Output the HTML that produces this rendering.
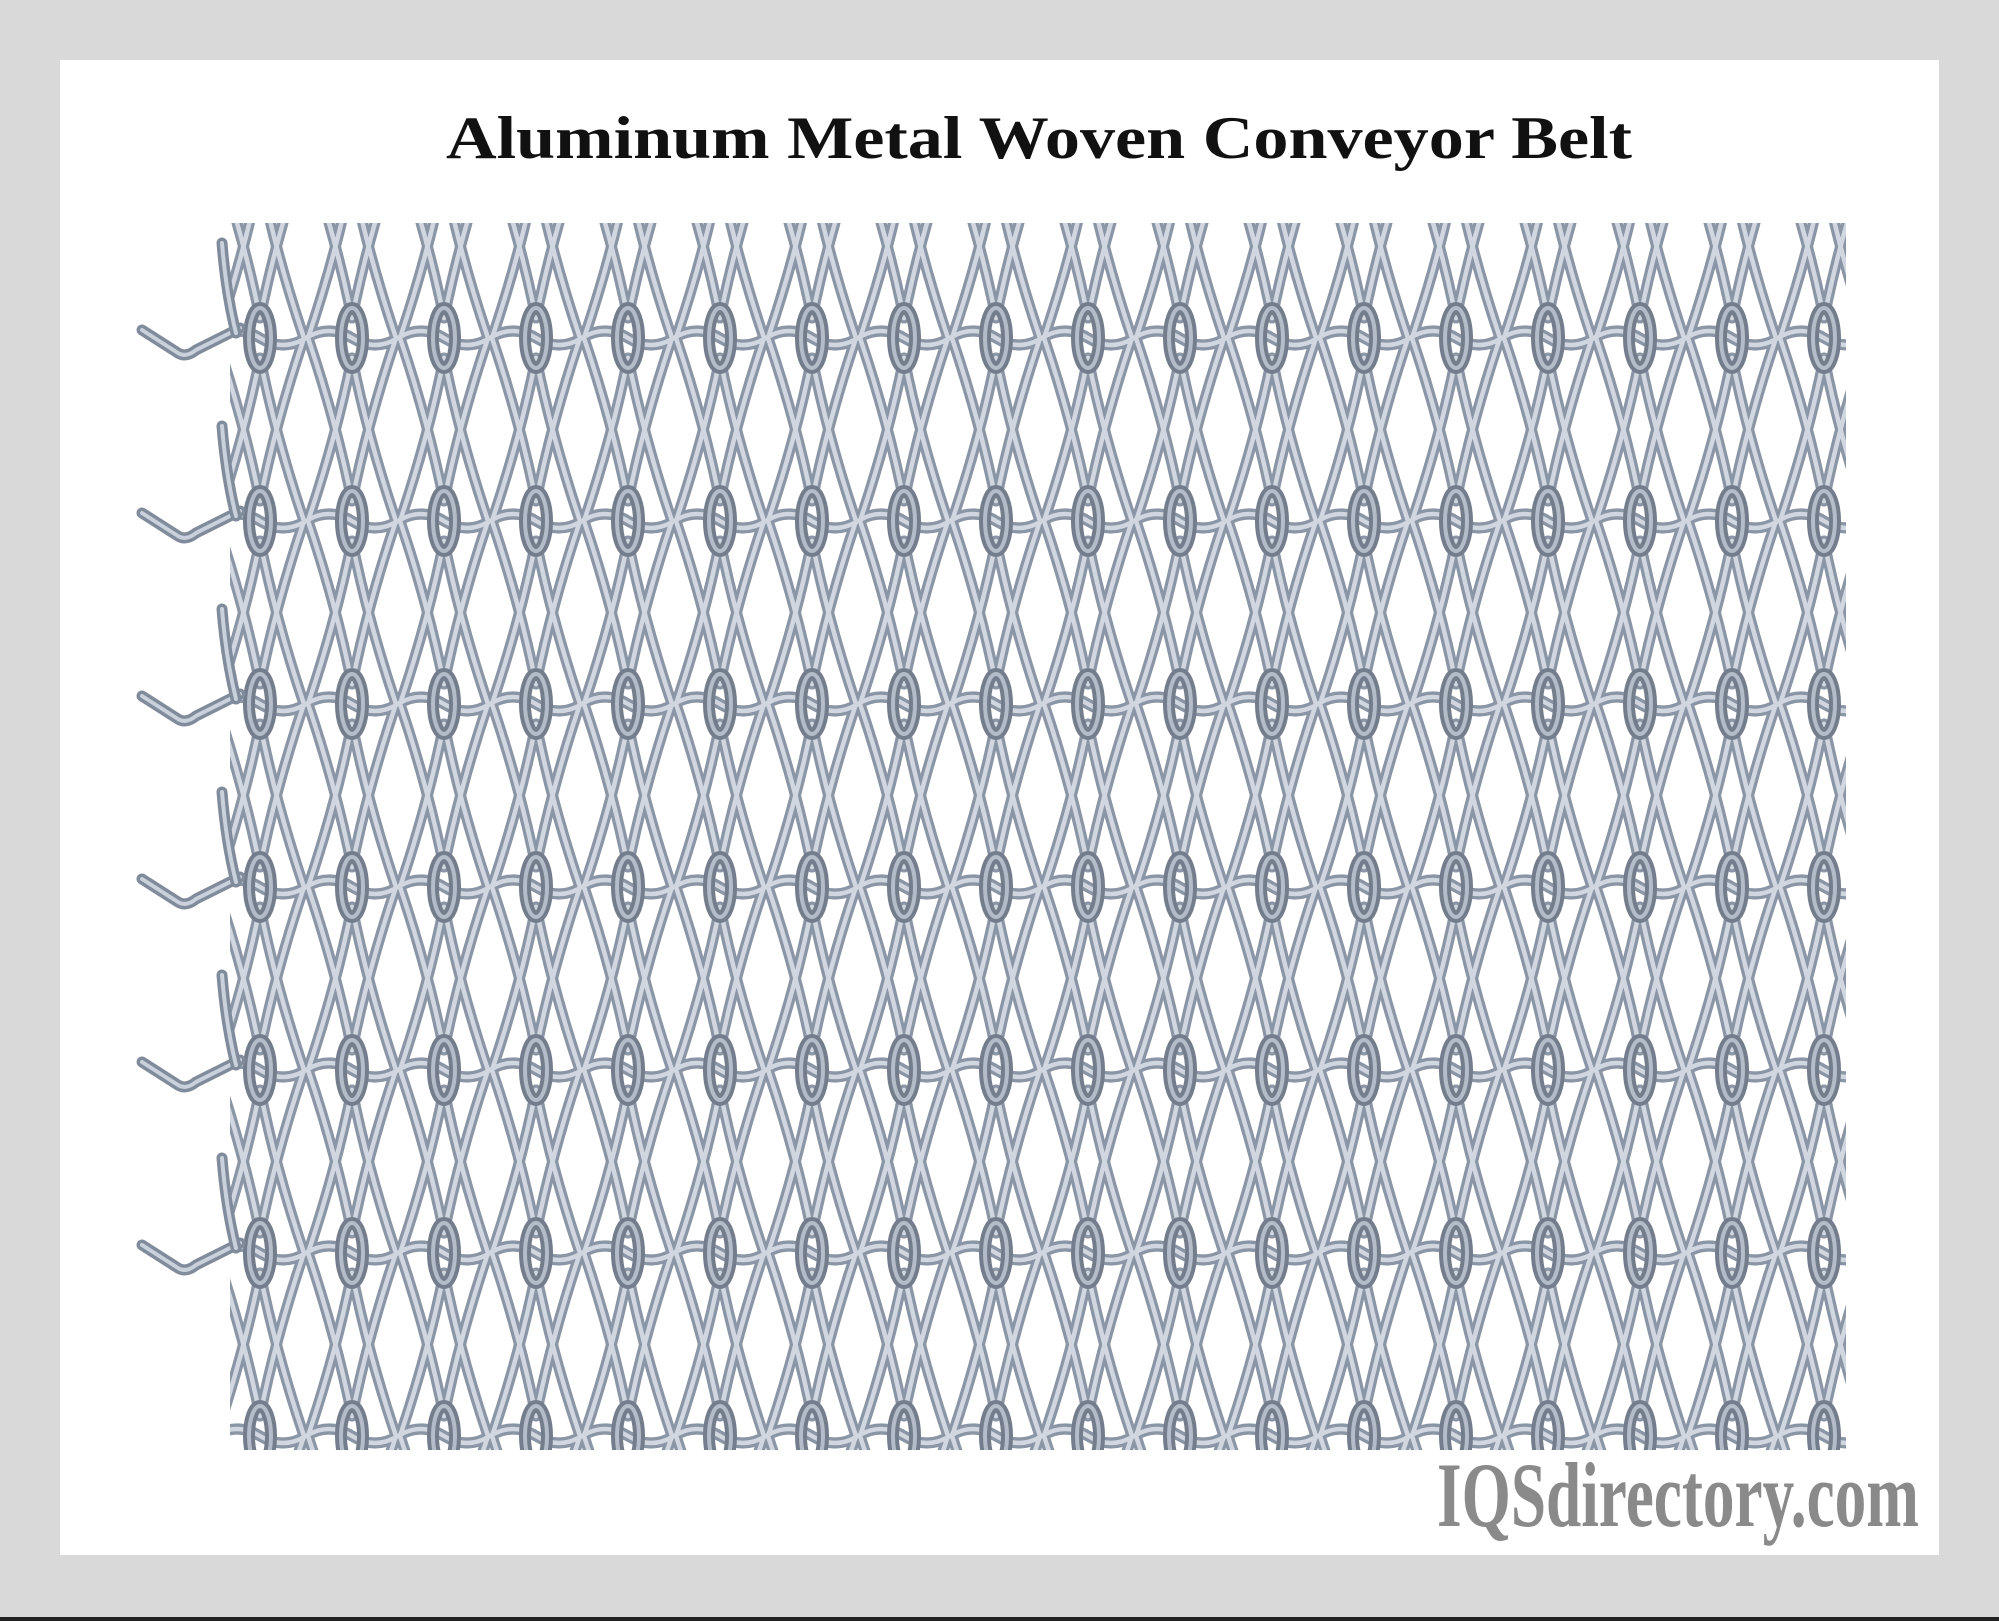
<!DOCTYPE html>
<html><head><meta charset="utf-8"><style>
html,body{margin:0;padding:0;background:#d9d9d9;}
svg{display:block;}
</style></head><body>
<svg width="1999" height="1621" viewBox="0 0 1999 1621" xmlns="http://www.w3.org/2000/svg">
<defs>
<pattern id="mesh" patternUnits="userSpaceOnUse" x="214" y="155" width="92" height="183">
 <g fill="none" stroke-linecap="round">
  <g stroke="#8a95a5" stroke-width="11">
   <path d="M46,20 Q30,100 2,183"/>
   <path d="M46,20 Q62,100 90,183"/>
   <path d="M46,163 Q30,83 2,0"/>
   <path d="M46,163 Q62,83 90,0"/>
   <path d="M-46,163 Q-30,83 -2,0"/>
   <path d="M138,163 Q122,83 94,0"/>
   <path d="M-46,20 Q-30,100 -2,183"/>
   <path d="M138,20 Q122,100 94,183"/>
   <path d="M0,183 q23,-14 46,0 t46,0"/>
   <path d="M0,0 q23,-14 46,0 t46,0"/>
  </g>
  <g stroke="#d0d7e0" stroke-width="4.5">
   <path d="M46,20 Q30,100 2,183"/>
   <path d="M46,20 Q62,100 90,183"/>
   <path d="M46,163 Q30,83 2,0"/>
   <path d="M46,163 Q62,83 90,0"/>
   <path d="M-46,163 Q-30,83 -2,0"/>
   <path d="M138,163 Q122,83 94,0"/>
   <path d="M-46,20 Q-30,100 -2,183"/>
   <path d="M138,20 Q122,100 94,183"/>
   <path d="M0,183 q23,-14 46,0 t46,0"/>
   <path d="M0,0 q23,-14 46,0 t46,0"/>
  </g>
  <g stroke="#737d8c" stroke-width="12">
   <ellipse cx="46" cy="183" rx="11" ry="30"/>
   <ellipse cx="46" cy="0" rx="11" ry="30"/>
  </g>
  <g stroke="#b3bcc8" stroke-width="4">
   <ellipse cx="46" cy="183" rx="11" ry="30"/>
   <ellipse cx="46" cy="0" rx="11" ry="30"/>
  </g>
 </g>
</pattern>
<g id="hook" fill="none" stroke-linecap="round">
 <path d="M142,-8 L178,15 Q186,20 196,12 L240,-10" stroke="#808b9b" stroke-width="11"/>
 <path d="M142,-8 L178,15 Q186,20 196,12 L240,-10" stroke="#c9d1dc" stroke-width="4"/>
 <path d="M222,-95 Q226,-45 236,-5" stroke="#808b9b" stroke-width="11"/>
 <path d="M222,-95 Q226,-45 236,-5" stroke="#c9d1dc" stroke-width="4"/>
</g>
</defs>
<rect x="0" y="0" width="1999" height="1621" fill="#d9d9d9"/>
<rect x="60" y="60" width="1879" height="1495" fill="#ffffff"/>
<rect x="0" y="1617" width="1999" height="4" fill="#222"/>
<text x="1039" y="158" text-anchor="middle" font-family="Liberation Serif, serif" font-weight="bold" font-size="60" fill="#111" textLength="1186" lengthAdjust="spacingAndGlyphs">Aluminum Metal Woven Conveyor Belt</text>
<rect x="230" y="223" width="1616" height="1227" fill="url(#mesh)"/>
<use href="#hook" transform="translate(0,338)"/>
<use href="#hook" transform="translate(0,521)"/>
<use href="#hook" transform="translate(0,704)"/>
<use href="#hook" transform="translate(0,887)"/>
<use href="#hook" transform="translate(0,1070)"/>
<use href="#hook" transform="translate(0,1253)"/>
<rect x="130" y="1450" width="1730" height="20" fill="#ffffff"/>
<text x="1437" y="1526" font-family="Liberation Serif, serif" font-weight="bold" font-size="92" fill="#8a8a8a" textLength="482" lengthAdjust="spacingAndGlyphs">IQSdirectory.com</text>
</svg>
</body></html>
